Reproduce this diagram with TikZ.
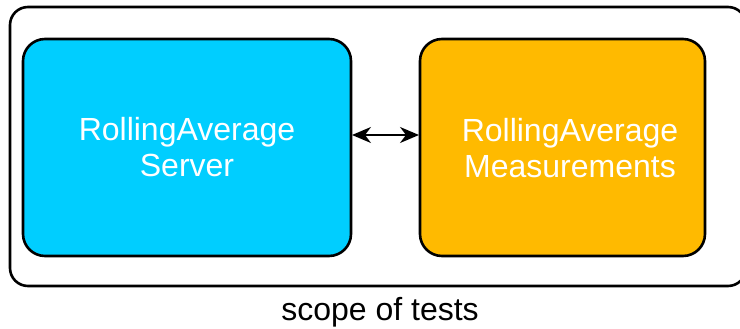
\documentclass[tikz,border=0pt]{standalone}
\usepackage{fontspec}
\setmainfont{Liberation Sans}
\usetikzlibrary{arrows.meta}
\definecolor{servercyan}{RGB}{0,206,255}
\definecolor{measorange}{RGB}{255,186,0}
\tikzset{
  unit/.style={draw=black, line width=2.6pt, rounded corners=22pt, inner sep=0pt},
  boxlabel/.style={text=white, font=\fontsize{32}{36}\selectfont, align=center},
  linktip/.tip={Stealth[length=19pt,width=16pt,inset=6pt]},
}
\begin{document}
\begin{tikzpicture}[x=1pt, y=-1pt]
  \useasboundingbox (0,0) rectangle (740,329);
  \begin{scope}
    \clip (0,0) rectangle (740,329);
    % outer scope frame
    \draw[line width=2.6pt, rounded corners=18pt] (10,7) rectangle (746,286);
  \end{scope}
  % components
  \draw[unit, fill=servercyan] (23,39) rectangle (351,256);
  \draw[unit, fill=measorange] (420,39) rectangle (705,256);
  \coordinate (srvE) at (352,135);
  \coordinate (measW) at (419,135);
  \node[boxlabel] (srv) at (187,147) {RollingAverage\\Server};
  \node[boxlabel] (meas) at (570,148) {RollingAverage\\Measurements};
  \draw[line width=2pt, linktip-linktip] (srvE) -- (measW);
  \node[font=\fontsize{32}{36}\selectfont] (scope) at (380,312) {scope of tests};
\end{tikzpicture}
\end{document}
